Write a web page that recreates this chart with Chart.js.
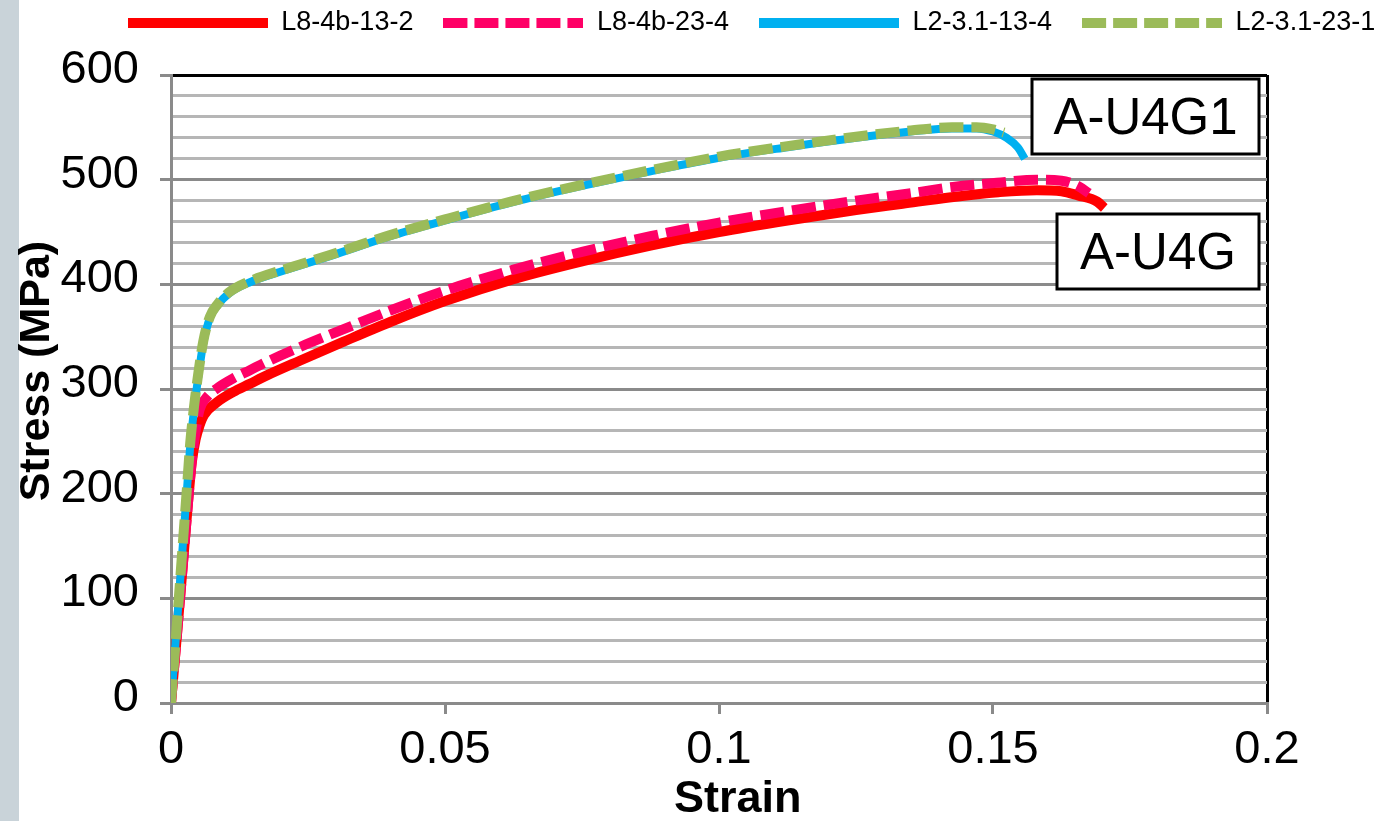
<!DOCTYPE html>
<html>
<head>
<meta charset="utf-8">
<script src="https://cdn.jsdelivr.net/npm/chart.js@4.4.0/dist/chart.umd.min.js"></script>
<style>
html, body { margin:0; padding:0; width:1379px; height:821px; overflow:hidden;
  background: linear-gradient(to right, #c9d3d9 0, #c9d3d9 19px, #ffffff 19px); }
#c { position:absolute; left:0; top:0; }
</style>
</head>
<body>
<canvas id="c" width="1503" height="821"></canvas>
<script>
// ---------- data ----------
const seriesNames = ['L8-4b-13-2', 'L8-4b-23-4', 'L2-3.1-13-4', 'L2-3.1-23-1'];

const strainRed  = [0, 0.001, 0.002, 0.003, 0.0038, 0.0045, 0.0052, 0.006, 0.0083, 0.0113, 0.0144, 0.0175, 0.0235, 0.0314, 0.04, 0.05, 0.0625, 0.075, 0.0875, 0.1, 0.1125, 0.125, 0.1335, 0.142, 0.151, 0.158, 0.1625, 0.1655, 0.169, 0.1703];
const stressRed  = [0, 60, 122, 185, 230, 252, 265, 275, 287, 297, 305, 313, 327, 345, 364, 384, 405, 422, 437, 450, 461, 471, 477, 483, 488, 490, 489, 485, 479, 473];

const strainPink = [0, 0.001, 0.002, 0.003, 0.0038, 0.0045, 0.0052, 0.0065, 0.0085, 0.0113, 0.0144, 0.0175, 0.0235, 0.0314, 0.04, 0.05, 0.0625, 0.075, 0.0875, 0.1, 0.1125, 0.125, 0.135, 0.1427, 0.1507, 0.158, 0.1625, 0.1655, 0.1675];
const stressPink = [0, 60, 122, 185, 232, 260, 280, 292, 301, 310, 318, 326, 340, 357, 375, 394, 414, 431, 446, 459, 470, 480, 487, 493, 497, 500, 499, 494, 487];

const strainBlue = [0, 0.001, 0.002, 0.003, 0.0035, 0.0042, 0.0048, 0.0059, 0.0071, 0.0085, 0.0105, 0.0144, 0.0205, 0.029, 0.04, 0.05, 0.062, 0.075, 0.0875, 0.1, 0.1125, 0.125, 0.135, 0.1425, 0.147, 0.15, 0.1525, 0.1545, 0.1558];
const stressBlue = [0, 70, 140, 210, 245, 280, 305, 344, 368, 380, 391, 402, 413, 427, 446, 461, 478, 494, 508, 521, 531, 540, 546, 549, 549, 546, 540, 531, 520];

const strainGreen = [0, 0.001, 0.002, 0.003, 0.0035, 0.0042, 0.0048, 0.0059, 0.0071, 0.0085, 0.0105, 0.0144, 0.0205, 0.029, 0.04, 0.05, 0.062, 0.075, 0.0875, 0.1, 0.1125, 0.125, 0.135, 0.1425, 0.147, 0.15, 0.152];
const stressGreen = [0, 70, 141, 212, 248, 283, 308, 346, 369, 381, 392, 403, 414, 428, 447, 462, 479, 495, 509, 522, 532, 541, 547, 550, 550, 548, 545];

const xTickLabels = ['0', '0.05', '0.1', '0.15', '0.2'];
const yTickLabels = ['0', '100', '200', '300', '400', '500', '600'];
const boxLabels = ['A-U4G1', 'A-U4G'];
const xTitle = 'Strain';
const yTitle = 'Stress (MPa)';

// ---------- styling ----------
const FONT = "'Liberation Sans', Arial, sans-serif";
const colors = ['#ff0000', '#ff0066', '#00b0f0', '#9bbb59'];
const dashes = [[], [24, 8], [], [24, 8]];
const widths = [10, 10, 8, 10];

function pts(xs, ys) { return xs.map((x, i) => ({ x: x, y: ys[i] })); }
const seriesData = [pts(strainRed, stressRed), pts(strainPink, stressPink), pts(strainBlue, stressBlue), pts(strainGreen, stressGreen)];

function swatch(color, dash) {
  const c = document.createElement('canvas');
  c.width = 140; c.height = 10;
  const g = c.getContext('2d');
  g.strokeStyle = color; g.lineWidth = 10; g.setLineDash(dash.length ? [24, 7] : []);
  g.beginPath(); g.moveTo(0, 5); g.lineTo(140, 5); g.stroke();
  return c;
}
const swatches = colors.map((c, i) => swatch(c, dashes[i]));

const legendHeightPlugin = {
  id: 'legendHeight',
  beforeLayout(chart) {
    const lg = chart.legend;
    if (lg && !lg._patched) {
      const fit = lg.fit;
      lg.fit = function () { fit.call(this); this.height = 96; };
      lg._patched = true;
    }
  }
};

const boxPlugin = {
  id: 'boxLabels',
  afterDraw(chart) {
    const ctx = chart.ctx, a = chart.chartArea;
    const boxes = [
      { text: boxLabels[0], left: a.right - 235, top: a.top + 4, w: 227, h: 75 },
      { text: boxLabels[1], left: a.right - 210, top: a.top + 139, w: 202, h: 75 }
    ];
    ctx.save();
    boxes.forEach(b => {
      ctx.fillStyle = '#fff'; ctx.fillRect(b.left, b.top, b.w, b.h);
      ctx.lineWidth = 3; ctx.strokeStyle = '#000'; ctx.strokeRect(b.left, b.top, b.w, b.h);
      ctx.fillStyle = '#000'; ctx.font = '51px ' + FONT;
      ctx.textAlign = 'center'; ctx.textBaseline = 'middle';
      ctx.fillText(b.text, b.left + b.w / 2, b.top + b.h / 2 + 3);
    });
    ctx.restore();
  }
};

Chart.defaults.font.family = FONT;

new Chart(document.getElementById('c'), {
  type: 'line',
  data: {
    datasets: seriesNames.map((name, i) => ({
      label: name,
      data: seriesData[i],
      borderColor: colors[i],
      backgroundColor: colors[i],
      borderWidth: widths[i],
      borderDash: dashes[i],
      borderCapStyle: 'butt',
      borderJoinStyle: 'round',
      cubicInterpolationMode: 'monotone',
      pointRadius: 0,
      fill: false,
      order: 4 - i
    }))
  },
  options: {
    responsive: false,
    animation: false,
    events: [],
    layout: { padding: { top: -21, left: 0, right: 0, bottom: 0 } },
    plugins: {
      tooltip: { enabled: false },
      legend: {
        position: 'top',
        align: 'center',
        labels: {
          usePointStyle: true,
          pointStyleWidth: 140,
          boxHeight: 10,
          padding: 30,
          color: '#000',
          font: { size: 27, family: FONT },
          generateLabels: (chart) => chart.data.datasets.map((ds, i) => ({
            text: ds.label,
            pointStyle: swatches[i],
            fillStyle: ds.borderColor,
            strokeStyle: ds.borderColor,
            lineWidth: 0,
            hidden: false,
            datasetIndex: i
          }))
        }
      }
    },
    scales: {
      x: {
        type: 'linear',
        min: 0, max: 0.2,
        afterFit: (s) => { s.height = 118; s.paddingRight = s.chart.width - 1267; },
        ticks: {
          stepSize: 0.05, autoSkip: false, maxRotation: 0, padding: 8,
          color: '#000', font: { size: 47, family: FONT },
          callback: (v) => { const k = Math.round(v / 0.05); return Math.abs(v - k * 0.05) < 1e-9 ? xTickLabels[k] : ''; }
        },
        grid: {
          drawOnChartArea: true,
          lineWidth: 3,
          color: (c) => (c.tick && Math.abs(c.tick.value - 0.2) < 1e-9) ? '#000000' : 'rgba(0,0,0,0)',
          tickColor: '#8a8a8a',
          tickLength: 11,
          tickWidth: 3
        },
        border: { color: '#8a8a8a', width: 3 },
        title: {
          display: true, text: '   ' + xTitle, color: '#000',
          font: { size: 45, weight: 'bold', family: FONT, lineHeight: 0.95 },
          padding: { top: 0, bottom: 0 }
        }
      },
      y: {
        type: 'linear',
        min: 0, max: 600,
        afterFit: (s) => { s.width = 171; },
        ticks: {
          stepSize: 20, autoSkip: false, padding: 21, labelOffset: -5,
          color: '#000', font: { size: 47, family: FONT },
          callback: (v) => (v % 100 === 0 ? yTickLabels[v / 100] : '')
        },
        grid: {
          lineWidth: 3,
          color: (c) => {
            const v = c.tick ? c.tick.value : 0;
            if (v === 600) return '#000000';
            return v % 100 === 0 ? '#8a8a8a' : '#b6b6b6';
          },
          tickColor: (c) => (c.tick && c.tick.value % 100 === 0) ? '#8a8a8a' : 'rgba(0,0,0,0)',
          tickLength: 11,
          tickWidth: 3
        },
        border: { color: '#8a8a8a', width: 3 },
        title: {
          display: true, text: '   ' + yTitle, color: '#000',
          font: { size: 43, weight: 'bold', family: FONT, lineHeight: 1 },
          padding: { top: 16, bottom: 0 }
        }
      }
    }
  },
  plugins: [legendHeightPlugin, boxPlugin]
});
</script>
</body>
</html>
